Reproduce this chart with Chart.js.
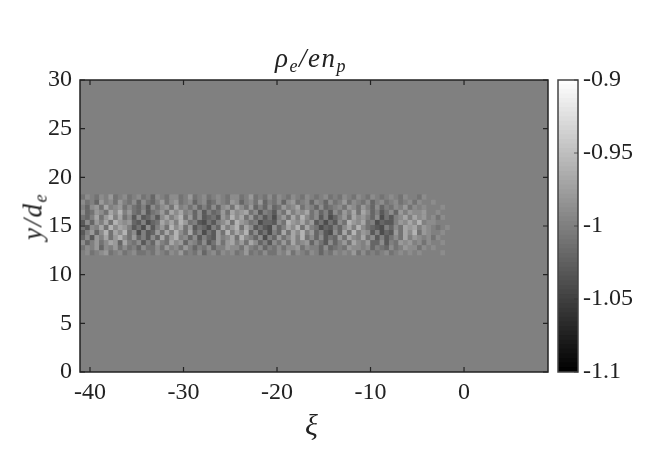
<!DOCTYPE html>
<html>
<head>
<meta charset="utf-8">
<title>rho_e / e n_p</title>
<script src="https://cdn.jsdelivr.net/npm/chart.js@4"></script>
<style>
  body { margin: 0; background: #fff; }
  #wrap { position: relative; width: 654px; height: 469px; overflow: hidden; }
  canvas { position: absolute; left: 0; top: 0; }
  .math { position: absolute; font: italic 27px "Liberation Serif", serif; color: #222; white-space: nowrap; line-height: 1; letter-spacing: 1.5px; }
  .math sub { font-size: 18px; line-height: 0; vertical-align: -5px; }
</style>
</head>
<body>
<div id="wrap">
  <canvas id="field" width="654" height="469"></canvas>
  <canvas id="bar" width="654" height="469"></canvas>
  <div class="math" style="left:275px; top:45px;">ρ<sub>e</sub>/en<sub>p</sub></div>
  <div class="math" style="left:305px; top:410px; font-size:30px;">ξ</div>
  <div class="math" style="left:-7px; top:203px; transform: rotate(-90deg); width:80px; text-align:center;">y/d<sub>e</sub></div>
</div>
<script>
// ticks
var xTicks = [-40, -30, -20, -10, 0];
var yTicks = [0, 5, 10, 15, 20, 25, 30];
var barTicks = [-1.1, -1.05, -1, -0.95, -0.9];
var barTickLabels = { "-1.1": "-1.1", "-1.05": "-1.05", "-1": "-1", "-0.95": "-0.95", "-0.9": "-0.9" };

// colour limits and the flat value outside the band
var colorMin = -1.1;
var colorMax = -0.9;
var fieldLevel = -1;

// band grid
var colStart = -40.75;
var colStep = 0.5;
var rowY = [12.26, 12.78, 13.3, 13.82, 14.34, 14.86, 15.38, 15.9, 16.42, 16.94, 17.46, 17.98];

// band values, deviation from -1 in hundredths, bottom row first
var row0 = [0,1,-1,0,1,2,-1,0,1,-1,0,1,-1,-1,0,-1,1,0,-1,1,0,2,-1,0,-1,1,-2,0,1,-1,1,0,1,-1,0,2,-1,0,-1,1,-1,-1,1,0,2,-1,1,0,-1,1,0,-2,0,-1,1,0,1,0,2,-1,1,-1,0,-1,0,1,-1,0,1,0,1,0,1,0,0,0,0,1,0,0];
var row1 = [-1,1,0,2,-2,1,0,2,-1,1,-1,0,-2,1,-1,-1,1,-1,2,0,1,-1,2,0,-2,0,-1,1,-2,0,0,2,1,1,-1,2,0,-1,1,-2,0,-1,1,-1,1,1,2,-1,1,0,0,-2,1,-2,-1,0,-1,2,1,1,0,1,-2,0,-1,-2,1,-1,0,2,1,1,-1,1,0,1,0,0,0,0];
var row2 = [1,-2,0,2,-1,1,3,2,-2,3,0,-1,1,-3,0,-2,2,0,-1,3,1,2,-2,1,0,-2,1,-3,-1,2,-1,2,3,0,2,-1,3,1,-2,0,-3,1,-1,2,-1,3,0,1,2,-2,1,-1,-3,1,-2,0,2,-1,3,1,0,2,-2,-2,1,-3,0,-1,2,1,2,0,1,-1,1,0,0,1,0,0];
var row3 = [-2,1,-3,2,0,3,-1,2,4,1,-1,2,-2,0,-3,1,-2,3,-1,2,4,0,1,-2,1,-3,0,-2,-3,2,0,1,3,-1,4,1,0,-2,1,-4,0,-2,2,-1,1,3,0,4,-1,1,-2,1,-3,-1,-2,2,-1,3,1,0,3,-1,1,-3,0,-3,-1,1,-1,3,0,2,1,0,1,-1,1,0,0,0];
var row4 = [-3,0,2,-2,1,4,-1,3,1,4,-1,1,-4,0,-3,-2,2,-1,3,0,4,1,-1,3,-2,0,-4,-1,-3,2,-1,4,0,3,1,4,-2,1,-3,-1,-4,0,-2,3,-1,3,1,4,0,2,-2,0,-3,-4,1,-2,3,-1,4,0,2,1,-3,0,-4,-2,-3,2,-1,3,1,4,-1,2,1,0,0,1,0,0];
var row5 = [-1,-3,1,0,3,-1,4,1,3,2,0,-3,-1,-4,1,-3,0,2,-1,4,1,3,-1,2,-3,-1,-2,-4,0,-2,3,0,2,4,-1,3,1,-3,-1,-3,-4,1,-2,0,3,1,4,-1,3,0,-1,-4,-2,-3,0,-2,1,3,0,4,1,-1,-2,-3,-4,0,-2,1,-1,3,2,3,0,2,1,0,-1,0,1,0];
var row6 = [-3,1,-2,2,0,3,-1,4,2,1,2,-2,-3,0,-4,-2,-1,3,1,3,0,4,2,-1,0,-3,-4,-1,-3,0,1,3,-1,4,2,1,-1,0,-4,-2,-2,-3,1,-1,4,2,1,3,0,2,-3,-1,-4,-1,-3,1,-1,4,2,1,3,-1,0,-4,-2,-3,-3,0,2,1,3,1,4,0,1,1,0,0,0,0];
var row7 = [-1,-2,0,3,-1,2,4,0,3,-1,1,-3,1,-3,-2,0,-3,1,3,0,2,4,-1,2,-2,1,-3,-2,-1,-3,2,0,4,1,3,-1,2,-2,0,-3,-1,-4,0,2,-1,3,0,4,1,-1,1,-3,0,-4,-2,0,2,-1,3,1,2,0,-2,1,-4,-1,-3,0,1,3,0,3,1,2,0,1,-1,1,0,0];
var row8 = [1,-2,-1,2,1,-1,3,1,4,0,2,-1,-2,1,-3,-1,0,2,-1,3,1,3,0,1,-2,1,-3,0,-2,-1,2,-1,3,1,2,3,-1,1,-3,0,-1,-3,1,-1,3,0,2,1,3,-1,1,-2,0,-3,1,-1,2,0,3,-1,3,1,-2,0,-3,-1,1,-2,2,0,2,1,1,2,0,0,1,0,0,0];
var row9 = [0,-2,1,2,-1,3,0,1,2,-1,1,-1,-2,0,-3,1,-1,1,2,-1,3,0,1,-1,1,-2,0,-2,1,-2,1,2,-1,3,1,-1,2,-2,0,-2,1,-2,-1,2,0,1,3,-1,1,0,-2,1,-2,-1,0,1,-1,2,1,-1,2,0,-2,1,-2,0,-1,1,0,2,-1,1,0,1,0,0,0,1,0,0];
var row10 = [1,-1,0,-2,2,0,1,-1,2,0,-1,1,-2,1,-1,-2,0,2,-1,1,2,-1,0,1,-2,0,1,-2,-1,1,0,-1,2,1,-2,0,1,-1,2,-2,0,-1,1,-2,1,2,-1,0,1,-2,1,0,-2,1,-1,0,2,-1,1,0,-1,1,-2,0,1,-1,0,1,-1,0,1,-1,1,0,0,1,0,0,0,0];
var row11 = [-1,1,0,-1,1,0,2,-1,0,1,-1,0,1,-1,0,-2,1,0,-1,1,1,-1,0,2,-1,0,1,-1,0,1,0,-1,1,1,-1,0,2,-1,0,-1,1,-1,1,0,-1,1,0,-1,1,0,-1,0,1,-1,0,-1,1,0,-1,1,0,-1,1,0,-1,0,1,0,-1,1,0,0,-1,1,0,0,0,0,0,0];
var rows = [row0, row1, row2, row3, row4, row5, row6, row7, row8, row9, row10, row11];

function gray(v) {
  var g = Math.round(255 * (v - colorMin) / (colorMax - colorMin));
  g = Math.max(0, Math.min(255, g));
  return "rgb(" + g + "," + g + "," + g + ")";
}

var cells = [];
var cellColors = [];
rows.forEach(function (row, r) {
  row.forEach(function (dev, c) {
    var v = -1 + dev / 100;
    cells.push({ x: colStart + c * colStep, y: rowY[r] });
    cellColors.push(gray(v));
  });
});

var tickFont = { family: "'Liberation Serif', serif", size: 24 };
var inkColor = "#222";

// flat gray under the band
var fieldBackground = {
  id: "fieldBackground",
  beforeDatasetsDraw: function (chart) {
    var a = chart.chartArea;
    chart.ctx.fillStyle = gray(fieldLevel);
    chart.ctx.fillRect(a.left, a.top, a.width, a.height);
  },
};

// box and inward ticks on all four sides
var frame = {
  id: "frame",
  afterDraw: function (chart) {
    var a = chart.chartArea;
    var ctx = chart.ctx;
    ctx.save();
    ctx.strokeStyle = inkColor;
    ctx.lineWidth = 1.5;
    ctx.strokeRect(a.left, a.top, a.width, a.height);
    ctx.lineWidth = 1.2;
    ctx.beginPath();
    xTicks.forEach(function (t) {
      var px = chart.scales.x.getPixelForValue(t);
      ctx.moveTo(px, a.bottom);
      ctx.lineTo(px, a.bottom - 5);
      ctx.moveTo(px, a.top);
      ctx.lineTo(px, a.top + 5);
    });
    yTicks.forEach(function (t) {
      var py = chart.scales.y.getPixelForValue(t);
      ctx.moveTo(a.left, py);
      ctx.lineTo(a.left + 5, py);
      ctx.moveTo(a.right, py);
      ctx.lineTo(a.right - 5, py);
    });
    ctx.stroke();
    ctx.restore();
  },
};

// Main field
var fieldChart = new Chart(document.getElementById("field").getContext("2d"), {
  type: "scatter",
  data: {
    datasets: [
      {
        data: cells,
        pointStyle: "rect",
        pointRadius: 3.7,
        pointBorderWidth: 0,
        backgroundColor: cellColors,
      },
    ],
  },
  options: {
    responsive: false,
    animation: false,
    layout: { padding: { left: 20, top: 80, right: 106, bottom: 57 } },
    plugins: { legend: { display: false }, tooltip: { enabled: false } },
    scales: {
      x: {
        type: "linear",
        min: -41.07,
        max: 8.98,
        grid: { display: false, drawTicks: false },
        border: { display: false },
        afterFit: function (s) { s.height = 40; },
        afterBuildTicks: function (s) { s.ticks = xTicks.map(function (v) { return { value: v }; }); },
        ticks: { font: tickFont, color: inkColor, padding: 6, maxRotation: 0, autoSkip: false },
      },
      y: {
        type: "linear",
        min: 0,
        max: 30,
        grid: { display: false, drawTicks: false },
        border: { display: false },
        afterFit: function (s) { s.width = 60; },
        afterBuildTicks: function (s) { s.ticks = yTicks.map(function (v) { return { value: v }; }); },
        ticks: { font: tickFont, color: inkColor, padding: 8, autoSkip: false },
      },
    },
  },
  plugins: [fieldBackground, frame],
});

// Colorbar, 64 gray steps
var barLevels = 64;
var barSets = [];
for (var i = 0; i < barLevels; i++) {
  var lo = colorMin + (i / barLevels) * (colorMax - colorMin);
  var hi = colorMin + ((i + 1) / barLevels) * (colorMax - colorMin);
  barSets.push({
    data: [[lo - 0.001, hi]],
    backgroundColor: gray((lo + hi) / 2),
    borderWidth: 0,
    barPercentage: 1,
    categoryPercentage: 1,
    grouped: false,
  });
}

var barFrame = {
  id: "barFrame",
  afterDraw: function (chart) {
    var a = chart.chartArea;
    var ctx = chart.ctx;
    ctx.save();
    ctx.strokeStyle = "#444";
    ctx.lineWidth = 1.5;
    ctx.strokeRect(a.left, a.top, a.width, a.height);
    ctx.lineWidth = 1;
    ctx.strokeStyle = "rgba(50,50,50,0.7)";
    ctx.beginPath();
    barTicks.forEach(function (t) {
      var py = chart.scales.y.getPixelForValue(t);
      ctx.moveTo(a.right, py);
      ctx.lineTo(a.right - 4, py);
    });
    ctx.stroke();
    ctx.restore();
  },
};

var barChart = new Chart(document.getElementById("bar").getContext("2d"), {
  type: "bar",
  data: { labels: ["level"], datasets: barSets },
  options: {
    responsive: false,
    animation: false,
    layout: { padding: { left: 558, top: 80, right: 0, bottom: 97 } },
    plugins: { legend: { display: false }, tooltip: { enabled: false } },
    scales: {
      x: { display: false },
      y: {
        position: "right",
        min: colorMin,
        max: colorMax,
        grid: { display: false, drawTicks: false },
        border: { display: false },
        afterFit: function (s) { s.width = 76; },
        afterBuildTicks: function (s) { s.ticks = barTicks.map(function (v) { return { value: v }; }); },
        ticks: {
          font: tickFont,
          color: inkColor,
          padding: 5,
          autoSkip: false,
          callback: function (v) { return barTickLabels[String(v)]; },
        },
      },
    },
  },
  plugins: [barFrame],
});
</script>
</body>
</html>
